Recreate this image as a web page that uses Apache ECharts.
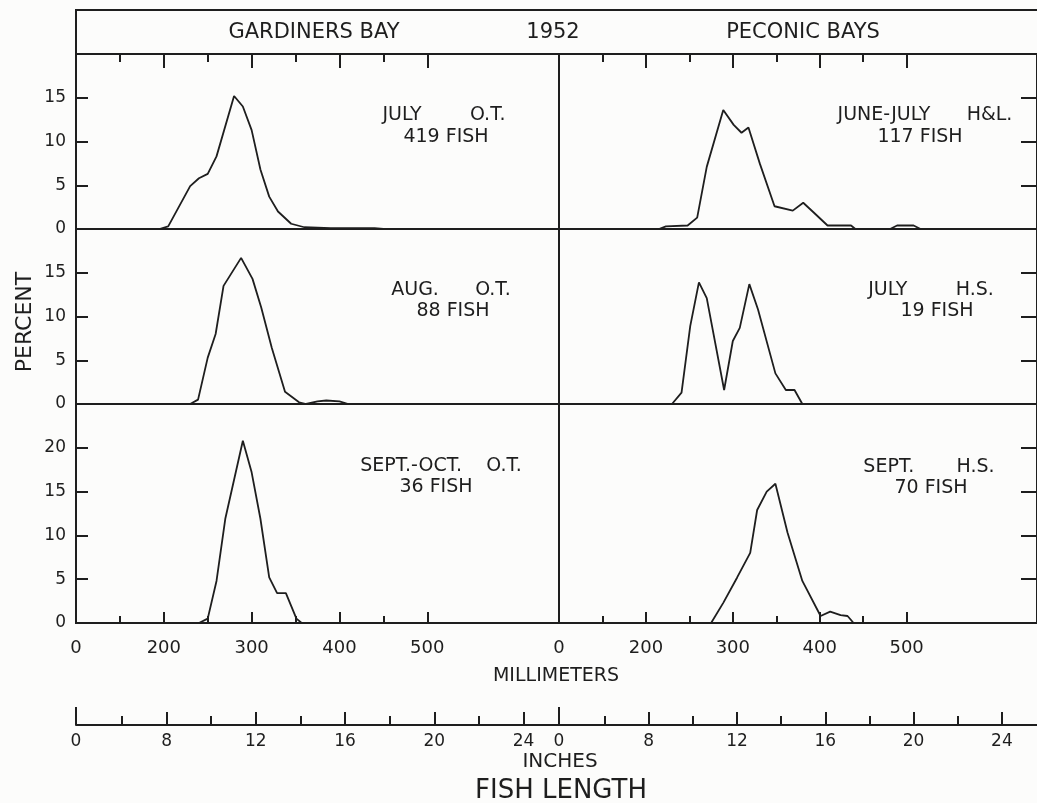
<!DOCTYPE html>
<html><head><meta charset="utf-8">
<script src="https://cdn.jsdelivr.net/npm/echarts@6/dist/echarts.min.js"></script>
<style>html,body{margin:0;padding:0;background:#fcfcfb}#c{width:1037px;height:803px}</style>
</head><body><div id="c"></div>
<script>
// ---- data (fish length in mm, percent) ----
const gbJulyMM  = [195, 205, 230, 240, 250, 260, 280, 290, 300, 310, 320, 330, 345, 360, 390, 430, 440, 450];
const gbJulyPct = [0, 0.3, 4.9, 5.8, 6.3, 8.3, 15.2, 14.0, 11.3, 6.8, 3.7, 2.0, 0.6, 0.2, 0.1, 0.1, 0.1, 0];
const gbAugMM   = [230, 239, 250, 259, 268, 288, 301, 311, 323, 338, 354, 362, 375, 385, 400, 410];
const gbAugPct  = [0, 0.5, 5.3, 8.0, 13.5, 16.7, 14.3, 11.0, 6.4, 1.4, 0.2, 0, 0.3, 0.4, 0.3, 0];
const gbSeptMM  = [240, 250, 260, 270, 290, 300, 310, 320, 329, 339, 351, 357];
const gbSeptPct = [0, 0.5, 4.8, 11.9, 20.8, 17.2, 11.9, 5.2, 3.4, 3.4, 0.5, 0];
const pbJJMM    = [215, 223, 248, 259, 270, 289, 301, 310, 318, 331, 348, 369, 381, 394, 409, 436, 441, 481, 489, 508, 516];
const pbJJPct   = [0, 0.3, 0.4, 1.3, 7.1, 13.6, 11.9, 11.0, 11.6, 7.5, 2.6, 2.1, 3.0, 1.8, 0.4, 0.4, 0, 0, 0.4, 0.4, 0];
const pbJulyMM  = [230, 241, 251, 261, 270, 290, 300, 308, 319, 329, 349, 361, 371, 380];
const pbJulyPct = [0, 1.3, 8.9, 13.9, 12.1, 1.6, 7.2, 8.7, 13.7, 10.8, 3.5, 1.6, 1.6, 0];
const pbSeptMM  = [275, 289, 305, 320, 328, 339, 349, 363, 380, 401, 412, 424, 432, 439];
const pbSeptPct = [0, 2.3, 5.2, 8.0, 12.9, 15.0, 15.9, 10.3, 4.8, 0.8, 1.3, 0.9, 0.8, 0];

// ---- axis ticks / labels ----
const mmBreak = 100;            // axis is broken: the frame edge is labelled 0
const mmMax = 650;
const mmLabels = [100, 200, 300, 400, 500];
const mmMajor = [200, 300, 400, 500];
const mmMinor = [150, 250, 350, 450];
const inMajor = [8, 12, 16, 20, 24];
const inMinor = [6, 10, 14, 18, 22];
const yTicks20 = [5, 10, 15];
const yTicks25 = [5, 10, 15, 20];
const yLabels20 = [0, 5, 10, 15];
const yLabels25 = [0, 5, 10, 15, 20];

const INK = '#1e1e1e';
const FONT = 'DejaVu Sans';
const pair = (xs, ys) => xs.map((x, i) => [x, ys[i]]);

const L = 76, W_L = 483, R = 559, W_R = 484;
const rows = [{top: 54, h: 175}, {top: 229, h: 175}, {top: 404, h: 219}];
const grids = [];
rows.forEach(r => {
  grids.push({left: L, top: r.top, width: W_L, height: r.h});
  grids.push({left: R, top: r.top, width: W_R, height: r.h});
});
grids.forEach(g => Object.assign(g, {show: true, borderColor: INK, borderWidth: 2, backgroundColor: 'transparent', containLabel: false}));
grids.push({left: L, top: 700, width: W_L, height: 25, show: false});
grids.push({left: R, top: 700, width: W_R, height: 25, show: false});

const hidden = {show: false};
function mmAxis(gridIndex, position, ticks, len, labels) {
  return {
    type: 'value', gridIndex, position, min: mmBreak, max: mmMax, interval: 50,
    axisLine: {show: false, onZero: false},
    splitLine: hidden,
    axisTick: ticks ? {show: true, inside: true, length: len, customValues: ticks, lineStyle: {color: INK, width: 2}} : hidden,
    axisLabel: labels ? {show: true, customValues: labels, margin: 16, color: INK, fontFamily: FONT, fontSize: 18,
      formatter: v => v === mmBreak ? '0' : String(v)} : hidden
  };
}
const inMin = mmBreak / 25.4, inMax = mmMax / 25.4;
function inAxis(gridIndex, ticks, len, labels, line) {
  return {
    type: 'value', gridIndex, position: 'bottom', min: inMin, max: inMax,
    axisLine: line ? {show: true, onZero: false, lineStyle: {color: INK, width: 2}} : {show: false, onZero: false},
    splitLine: hidden,
    axisTick: {show: true, inside: true, length: len, customValues: ticks, lineStyle: {color: INK, width: 2}},
    axisLabel: labels ? {show: true, customValues: labels, margin: 8, color: INK, fontFamily: FONT, fontSize: 17,
      formatter: v => v < 5 ? '0' : String(Math.round(v))} : hidden
  };
}
const xAxis = [
  mmAxis(0, 'top', mmMajor, 14), mmAxis(0, 'top', mmMinor, 8),
  mmAxis(1, 'top', mmMajor, 14), mmAxis(1, 'top', mmMinor, 8),
  mmAxis(2, 'bottom', null), mmAxis(3, 'bottom', null),
  mmAxis(4, 'bottom', mmMajor, 11, mmLabels), mmAxis(4, 'bottom', mmMinor, 7),
  mmAxis(5, 'bottom', mmMajor, 11, mmLabels), mmAxis(5, 'bottom', mmMinor, 7),
  inAxis(6, inMajor, 13, [inMin].concat(inMajor), true), inAxis(6, inMinor, 9), inAxis(6, [inMin], 18),
  inAxis(7, inMajor, 13, [inMin].concat(inMajor), true), inAxis(7, inMinor, 9), inAxis(7, [inMin], 18)
];
function yLeft(gridIndex, max, ticks, labels) {
  return {type: 'value', gridIndex, position: 'left', min: 0, max, interval: 5,
    axisLine: {show: false, onZero: false}, splitLine: hidden,
    axisTick: {show: true, inside: true, length: 12, customValues: ticks, lineStyle: {color: INK, width: 2}},
    axisLabel: {show: true, customValues: labels, margin: 10, color: INK, fontFamily: FONT, fontSize: 17}};
}
function yRight(gridIndex, max, ticks) {
  return {type: 'value', gridIndex, position: 'right', min: 0, max, interval: 5,
    axisLine: {show: false, onZero: false}, splitLine: hidden,
    axisTick: {show: true, inside: true, length: 16, customValues: ticks, lineStyle: {color: INK, width: 2}},
    axisLabel: hidden};
}
const yAxis = [
  yLeft(0, 20, yTicks20, yLabels20), yRight(1, 20, yTicks20),
  yLeft(2, 20, yTicks20, yLabels20), yRight(3, 20, yTicks20),
  yLeft(4, 25, yTicks25, yLabels25), yRight(5, 25, yTicks25),
  {type: 'value', gridIndex: 6, show: false, min: 0, max: 1},
  {type: 'value', gridIndex: 7, show: false, min: 0, max: 1}
];
function line(name, xi, yi, xs, ys) {
  return {type: 'line', name, xAxisIndex: xi, yAxisIndex: yi, data: pair(xs, ys), showSymbol: false,
    symbol: 'none', silent: true, lineStyle: {color: INK, width: 1.8}, z: 3};
}
const series = [
  line('Gardiners Bay July O.T.', 0, 0, gbJulyMM, gbJulyPct),
  line('Peconic Bays June-July H&L.', 2, 1, pbJJMM, pbJJPct),
  line('Gardiners Bay Aug. O.T.', 4, 2, gbAugMM, gbAugPct),
  line('Peconic Bays July H.S.', 5, 3, pbJulyMM, pbJulyPct),
  line('Gardiners Bay Sept.-Oct. O.T.', 6, 4, gbSeptMM, gbSeptPct),
  line('Peconic Bays Sept. H.S.', 8, 5, pbSeptMM, pbSeptPct)
];
function txt(text, x, y, size, extra) {
  return Object.assign({type: 'text', x, y, z: 10, style: {text, fill: INK,
    font: (size || 19) + 'px "' + FONT + '"', textAlign: 'center', textVerticalAlign: 'middle',
    align: 'center', verticalAlign: 'middle'}}, extra || {});
}
const sp = n => ' '.repeat(n);
const graphic = [
  {type: 'rect', shape: {x: L, y: 10, width: W_L + W_R, height: 44}, style: {fill: 'none', stroke: INK, lineWidth: 2}, z: 5},
  txt('GARDINERS BAY', 314, 33, 21), txt('1952', 553, 33, 21), txt('PECONIC BAYS', 803, 33, 21),
  txt('JULY' + sp(8) + 'O.T.', 444, 115), txt('419 FISH', 446, 137),
  txt('AUG.' + sp(6) + 'O.T.', 451, 290), txt('88 FISH', 453, 311),
  txt('SEPT.-OCT.' + sp(4) + 'O.T.', 441, 466), txt('36 FISH', 436, 487),
  txt('JUNE-JULY' + sp(6) + 'H&L.', 925, 115), txt('117 FISH', 920, 137),
  txt('JULY' + sp(8) + 'H.S.', 931, 290), txt('19 FISH', 937, 311),
  txt('SEPT.' + sp(7) + 'H.S.', 929, 467), txt('70 FISH', 931, 488),
  txt('PERCENT', 25, 322, 22, {rotation: Math.PI / 2}),
  txt('MILLIMETERS', 556, 676, 19),
  txt('INCHES', 560, 762, 20),
  txt('FISH LENGTH', 561, 791, 26)
];
const chart = echarts.init(document.getElementById('c'), null, {renderer: 'canvas'});
chart.setOption({backgroundColor: '#fcfcfb', animation: false, grid: grids, xAxis, yAxis, series, graphic});
</script></body></html>
